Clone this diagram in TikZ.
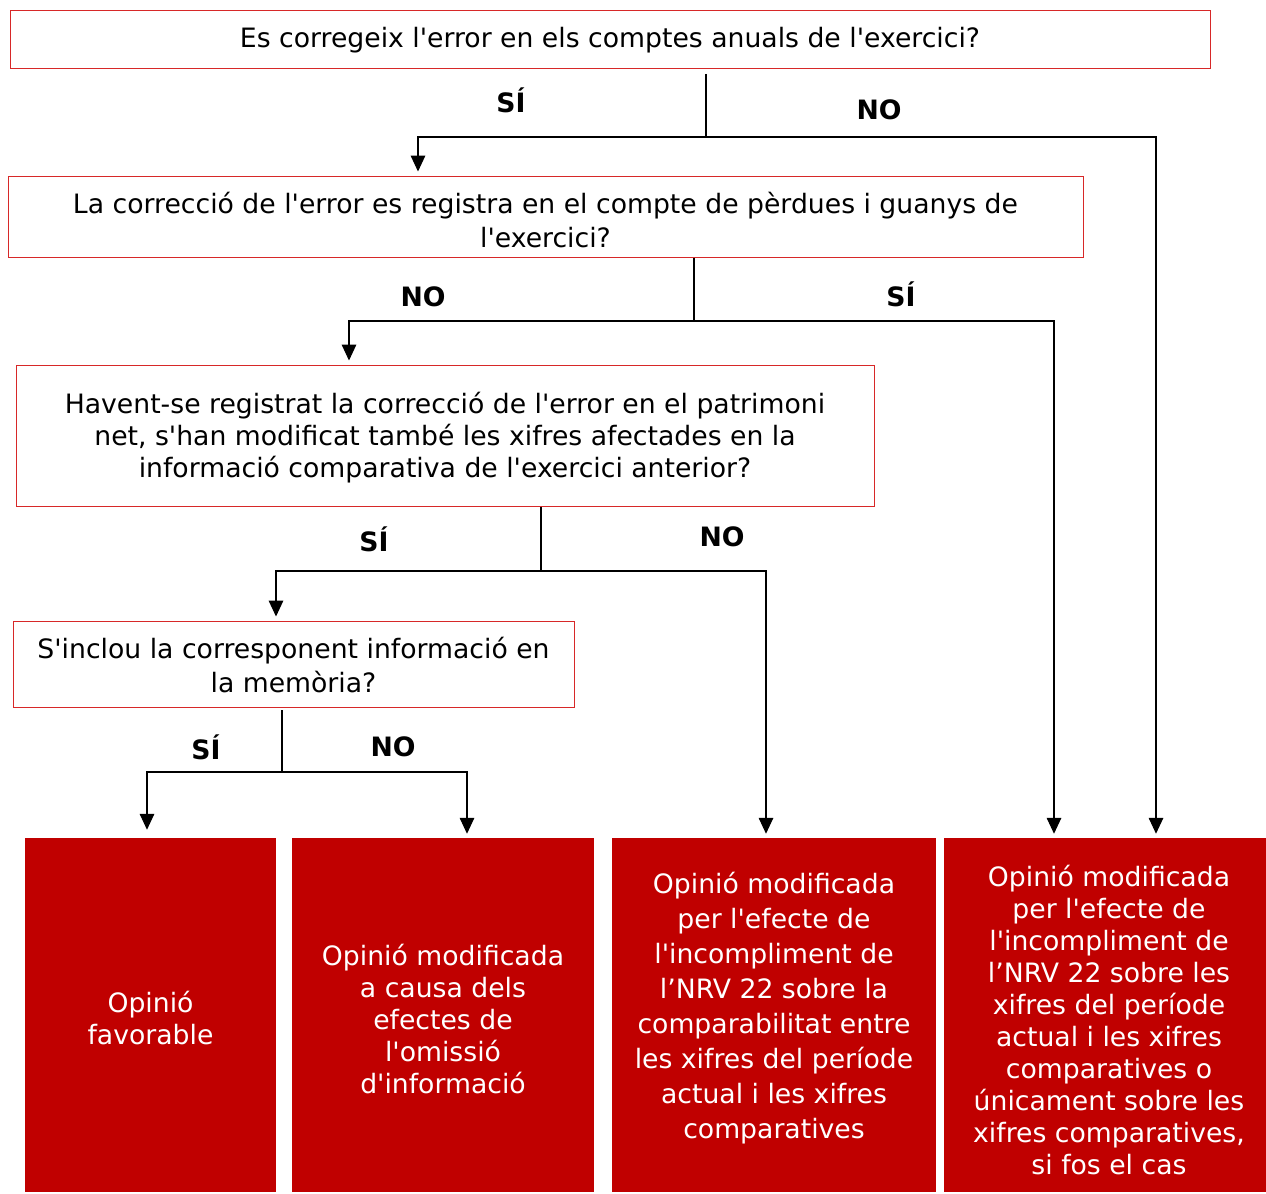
\documentclass[tikz,border=0pt]{standalone}
\usepackage{fontspec}
\setmainfont{DejaVu Sans}[Ligatures=TeXOff]
\usetikzlibrary{arrows.meta}
\definecolor{darkred}{RGB}{192,0,0}
\definecolor{borderred}{RGB}{215,40,40}
\tikzset{
  qbox/.style={draw=borderred, line width=0.75pt, fill=white, inner sep=0pt},
  qtext/.style={align=center, inner sep=0pt, font=\fontsize{20}{24}\selectfont},
  rbox/.style={fill=darkred, inner sep=0pt},
  rtext/.style={text=white, align=center, inner sep=0pt, font=\fontsize{20}{24}\selectfont},
  lbl/.style={font=\bfseries\fontsize{20}{22}\selectfont, inner sep=0pt},
  conn/.style={draw=black, line width=0.8pt},
  arr/.style={conn, -{Triangle[width=11pt,length=12pt]}, shorten >=3pt}
}
\begin{document}
\begin{tikzpicture}[x=0.75pt,y=-0.75pt]
\useasboundingbox (0,0) rectangle (1266,1193);
% question boxes
\node[qbox, minimum width=900pt, minimum height=43.5pt] (b1) at (610,39) {};
\node[qtext] (q1) at (610,40) {Es corregeix l'error en els comptes anuals de l'exercici?};
\node[qbox, minimum width=806.25pt, minimum height=60.75pt] (b2) at (545.5,216.5) {};
\node[qtext, font=\fontsize{20}{25.5}\selectfont] (q2) at (545.5,220)
  {La correcció de l'error es registra en el compte de pèrdues i guanys de\\l'exercici?};
\node[qbox, minimum width=643.5pt, minimum height=105.75pt] (b3) at (445,435.5) {};
\node[qtext] (q3) at (445,438)
  {Havent-se registrat la correcció de l'error en el patrimoni\\net, s'han modificat també les xifres afectades en la\\informació comparativa de l'exercici anterior?};
\node[qbox, minimum width=420.75pt, minimum height=64.5pt] (b4) at (293.5,664) {};
\node[qtext, font=\fontsize{20}{25.5}\selectfont] (q4) at (293.5,665)
  {S'inclou la corresponent informació en\\la memòria?};
% result boxes
\node[rbox, minimum width=188.25pt, minimum height=265.5pt] (r1) at (150.5,1015) {};
\node[rbox, minimum width=226.5pt, minimum height=265.5pt] (r2) at (443,1015) {};
\node[rbox, minimum width=243pt, minimum height=265.5pt] (r3) at (774,1015) {};
\node[rbox, minimum width=241.5pt, minimum height=265.5pt] (r4) at (1105,1015) {};
\node[rtext] (t1) at (150.5,1018) {Opinió\\favorable};
\node[rtext] (t2) at (443,1019) {Opinió modificada\\a causa dels\\efectes de\\l'omissió\\d'informació};
\node[rtext, font=\fontsize{20}{26.25}\selectfont] (t3) at (774,1008.5) {Opinió modificada\\per l'efecte de\\l'incompliment de\\l’NRV 22 sobre la\\comparabilitat entre\\les xifres del període\\actual i les xifres\\comparatives};
\node[rtext] (t4) at (1109,1020) {Opinió modificada\\per l'efecte de\\l'incompliment de\\l’NRV 22 sobre les\\xifres del període\\actual i les xifres\\comparatives o\\únicament sobre les\\xifres comparatives,\\si fos el cas};
% junction points
\coordinate (j1) at (706,137);
\coordinate (j2) at (694,321);
\coordinate (j3) at (541,571);
\coordinate (j4) at (282,772);
% connectors
\draw[conn, shorten <=4pt] (b1.south -| j1) -- (j1);
\draw[arr] (j1) -| (b2.north -| 418,0);
\draw[arr] (j1) -| (r4.north -| 1156,0);
\draw[conn] (b2.south -| j2) -- (j2);
\draw[arr] (j2) -| (b3.north -| 349,0);
\draw[arr] (j2) -| (r4.north -| 1054,0);
\draw[conn] (b3.south -| j3) -- (j3);
\draw[arr] (j3) -| (b4.north -| 276,0);
\draw[arr] (j3) -| (r3.north -| 766,0);
\draw[conn, shorten <=2pt] (b4.south -| j4) -- (j4);
\draw[arr, shorten >=6pt] (j4) -| (r1.north -| 147,0);
\draw[arr] (j4) -| (r2.north -| 467,0);
% labels
\node[lbl] (l1) at (511,100) {SÍ};
\node[lbl] (l2) at (879,110) {NO};
\node[lbl] (l3) at (423,297) {NO};
\node[lbl] (l4) at (901,294) {SÍ};
\node[lbl] (l5) at (374,539) {SÍ};
\node[lbl] (l6) at (722,537) {NO};
\node[lbl] (l7) at (206,747) {SÍ};
\node[lbl] (l8) at (393,747) {NO};
\end{tikzpicture}
\end{document}
